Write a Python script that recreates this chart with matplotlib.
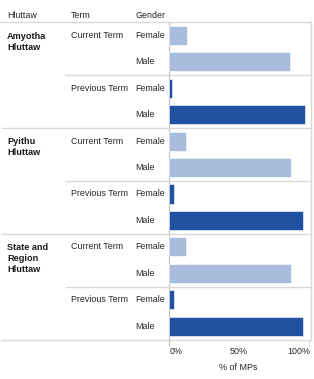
import matplotlib
matplotlib.use("Agg")
import matplotlib.pyplot as plt
from matplotlib.transforms import blended_transform_factory
from matplotlib.lines import Line2D

plt.rcParams['font.family'] = ['Liberation Sans', 'DejaVu Sans']

# ---- data ----
hluttaws = ["Amyotha\nHluttaw", "Pyithu\nHluttaw", "State and\nRegion\nHluttaw"]
terms = ["Current Term", "Previous Term"]
genders = ["Female", "Male"]
# percent of MPs: [hluttaw][term] -> (female, male)
values_amyotha = [[13.3, 86.7], [2.8, 97.2]]
values_pyithu = [[12.6, 87.4], [4.0, 96.0]]
values_state = [[12.6, 87.4], [3.6, 96.4]]
all_values = [values_amyotha, values_pyithu, values_state]
term_colors = ["#a8bcdc", "#2152a2"]
x_ticks = [0, 50, 100]
x_ticklabels = ["0%", "50%", "100%"]
x_label = "% of MPs"
headers = ["Hluttaw", "Term", "Gender"]

W, H = 314, 379
fig = plt.figure(figsize=(W / 100, H / 100), dpi=100)
fig.patch.set_facecolor("white")

def fx(px):
    return px / W

def fy(py):
    return 1 - py / H

ax_left, ax_right, ax_top, ax_bottom = 168.5, 310, 22, 339.5
ax = fig.add_axes([fx(ax_left), fy(ax_bottom), fx(ax_right - ax_left), (ax_bottom - ax_top) / H])
ax.set_xlim(0, (ax_right - ax_left) / 140 * 100)
ax.set_ylim(12, 0)

# bars
ys, widths, cols = [], [], []
row = 0
for g, vals in enumerate(all_values):
    for t, pair in enumerate(vals):
        for k, v in enumerate(pair):
            ys.append(row + 0.5)
            widths.append(v)
            cols.append(term_colors[t])
            row += 1
ax.barh(ys, widths, height=0.72, color=cols, edgecolor="white", linewidth=0.4, zorder=3)

for s in ["top", "bottom", "right"]:
    ax.spines[s].set_visible(False)
ax.spines["left"].set_color("#bdbdbd")
ax.spines["left"].set_linewidth(0.8)
ax.set_xticks([])
ax.set_yticks([])

text_col = "#262626"
fs = 6.4
tr = blended_transform_factory(fig.transFigure, ax.transData)
line_col = "#d9d9d9"

# headers
hx = [7, 71, 135]
for x, h in zip(hx, headers):
    fig.text(fx(x), fy(16), h, fontsize=fs, color=text_col, ha="left", va="center")

# separator lines
def hline(y, x0, x1):
    fig.add_artist(Line2D([fx(x0), fx(x1)], [y, y], transform=tr, color=line_col, lw=1.0, zorder=1))

hline(0, 0, ax_right + 1)
for g in range(len(hluttaws)):
    hline(4 * g + 4, 2, ax_right + 1)
    hline(4 * g + 2, 66, ax_right + 1)

# right border
fig.add_artist(Line2D([fx(ax_right + 1), fx(ax_right + 1)], [0, 12], transform=tr, color=line_col, lw=1.0))
# axis extension / ticks below
fig.add_artist(Line2D([fx(ax_left), fx(ax_left)], [fy(339.5), fy(345)], color="#bdbdbd", lw=0.8))
fig.add_artist(Line2D([fx(ax_left + 140), fx(ax_left + 140)], [fy(339.5), fy(345)], color=line_col, lw=0.8))

# labels
for g, name in enumerate(hluttaws):
    fig.text(fx(7), 4 * g + 0.36, name, transform=tr, fontsize=fs + 0.2, fontweight="bold",
             color="#1a1a1a", ha="left", va="top", linespacing=1.3)
    for t, term in enumerate(terms):
        base = 4 * g + 2 * t
        fig.text(fx(71), base + 0.5, term, transform=tr, fontsize=fs, color=text_col,
                 ha="left", va="center")
        for k, gen in enumerate(genders):
            fig.text(fx(135), base + k + 0.5, gen, transform=tr, fontsize=fs, color=text_col,
                     ha="left", va="center")

# x tick labels
aligns = ["left", "center", "right"]
for v, lab, al in zip(x_ticks, x_ticklabels, aligns):
    xpix = ax_left + v * 1.4
    if al == "left":
        xpix += 1.5
    elif al == "right":
        xpix = ax_right
    fig.text(fx(xpix), fy(352), lab, fontsize=fs, color=text_col, ha=al, va="center")
fig.text(fx(ax_left + 70), fy(367), x_label, fontsize=fs, color=text_col, ha="center", va="center")

fig.savefig("out.png", dpi=100, facecolor="white")
